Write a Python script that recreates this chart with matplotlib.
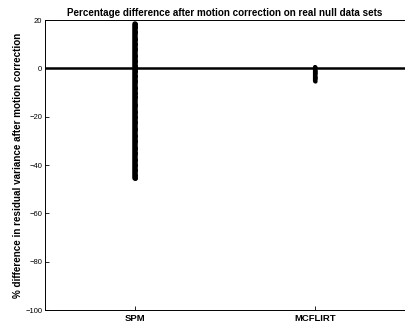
import matplotlib.pyplot as plt

plt.rcParams['font.family'] = ['Liberation Sans', 'DejaVu Sans']

# Data
methods = ['SPM', 'MCFLIRT']
spm_diff = [18.5, 17, 15, 12, 10, 8, 5, 3, 1, 0, -1, -3, -5, -8, -10, -12, -15,
            -18, -20, -22, -25, -28, -30, -33, -35, -38, -40, -42, -44, -45.5]
mcflirt_diff = [0.5, 0, -0.5, -1, -1.5, -2, -2.5, -3, -3.5, -4, -4.5, -5]
y_ticks = [-100, -80, -60, -40, -20, 0, 20]

fig = plt.figure(figsize=(4.06, 3.24), dpi=100)
ax = fig.add_axes([0.111, 0.043, 0.887, 0.895])

ax.axhline(0, color='black', lw=1.8)
ax.plot([1] * len(spm_diff), spm_diff, color='black', lw=4,
        marker='.', ms=5, solid_capstyle='round')
ax.plot([2] * len(mcflirt_diff), mcflirt_diff, color='black', lw=3,
        marker='.', ms=4, solid_capstyle='round')

ax.set_xlim(0.5, 2.5)
ax.set_ylim(-100, 20)
ax.set_xticks([1, 2])
ax.set_xticklabels(methods, fontsize=6.8, fontweight='bold')
ax.set_yticks(y_ticks)
ax.tick_params(axis='y', labelsize=5.5, direction='in', length=3, width=0.6, pad=2)
ax.tick_params(axis='x', direction='in', length=3, width=0.6, pad=3)
for s in ax.spines.values():
    s.set_linewidth(0.7)

ax.set_title('Percentage difference after motion correction on real null data sets',
             fontsize=7.1, fontweight='bold', pad=3)
ax.set_ylabel('% difference in residual variance after motion correction',
              fontsize=7.1, fontweight='bold', labelpad=2)

fig.savefig('out.png', dpi=100)
